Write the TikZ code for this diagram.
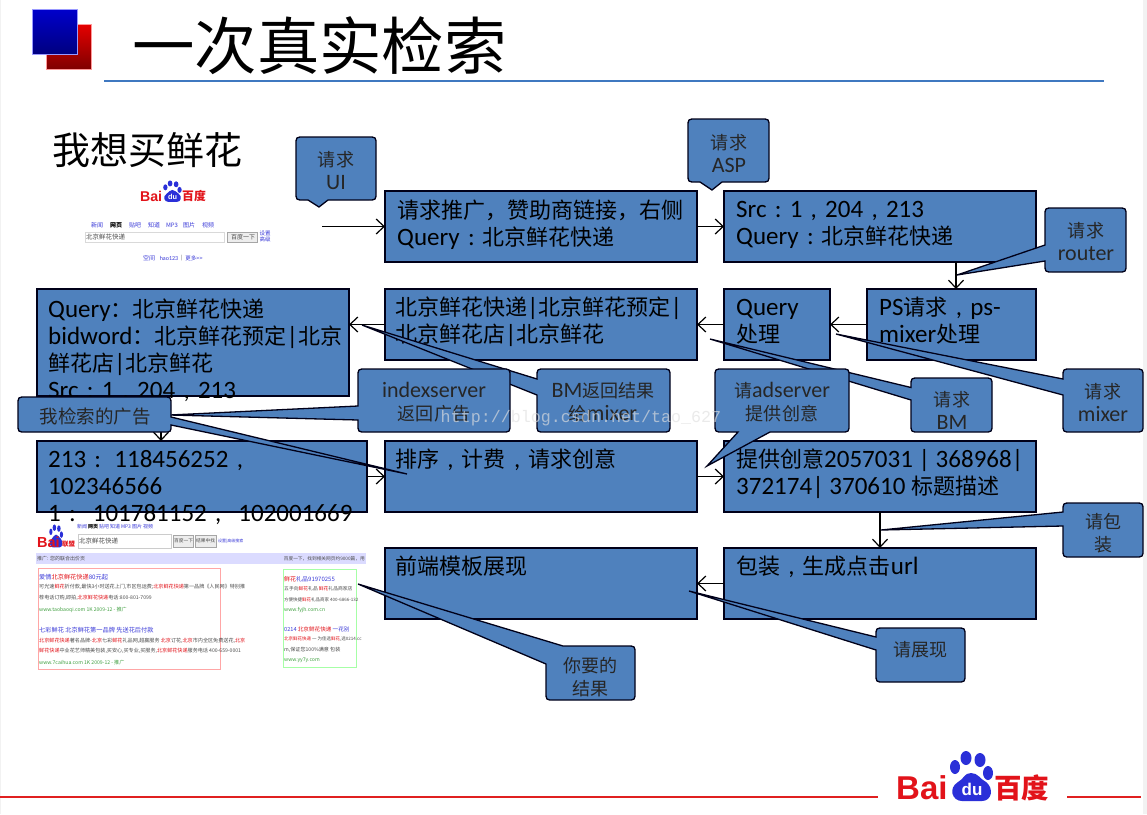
\documentclass[tikz,border=0pt]{standalone}
\usepackage{fontspec}
\usetikzlibrary{arrows.meta,calc}
\setmainfont{Carlito}
\newfontfamily\cjk{Noto Sans CJK SC}
\newfontfamily\cjks[Scale=0.88]{Noto Sans CJK SC}
\newfontfamily\logofont{Liberation Sans}
\newfontfamily\wmfont{Liberation Mono}
\newcommand{\Z}[1]{{\cjks #1}}
\newcommand{\Y}[1]{{\cjks\fontsize{20.5}{23}\selectfont #1}}
\newcommand{\kk}[1]{\hspace{.33em}#1\hspace{.33em}}
\definecolor{boxblue}{HTML}{4F81BD}
\definecolor{rulecol}{HTML}{3F78C0}
\definecolor{footred}{HTML}{E02020}
\definecolor{logored}{HTML}{E2131A}
\definecolor{logoblue}{HTML}{2A2FD8}
\definecolor{linkblue}{HTML}{3A3AD8}
\definecolor{adgreen}{HTML}{3F9F3F}
\tikzset{
  bx/.style={draw=black!90!blue,line width=1.3pt,fill=boxblue,inner sep=0pt,outer sep=0pt},
  bt/.style={anchor=north west,inner sep=0pt,align=left,font=\fontsize{25}{27}\selectfont},
  conn/.style={line width=1.2pt,-{Straight Barb[length=8pt,width=15pt,line width=1.2pt]}},
  cshape/.style={draw=black!90!blue,line width=1.3pt,fill=boxblue},
  ct/.style={inner sep=0pt,align=center,text=black!85,font=\fontsize{22}{23}\selectfont},
  mini/.style={inner sep=0pt,anchor=west,font=\cjk\fontsize{5.1}{6}\selectfont,text=black!70},
  minil/.style={mini,text=linkblue,font=\cjk\fontsize{6.2}{6}\selectfont},
  minig/.style={mini,text=adgreen},
  navl/.style={inner sep=0pt,text=linkblue,font=\cjk\fontsize{6}{6}\selectfont},
  navb/.style={inner sep=0pt,text=black,font=\cjk\bfseries\fontsize{6}{6}\selectfont}
}
\newcommand{\calloutL}[8]{\draw[cshape] (#1,#5) -- (#7,#8) -- (#1,#6) -- (#1,#4-8) .. controls (#1,#4) .. (#1+8,#4)
  -- (#3-8,#4) .. controls (#3,#4) .. (#3,#4-8) -- (#3,#2+8) .. controls (#3,#2) .. (#3-8,#2)
  -- (#1+8,#2) .. controls (#1,#2) .. (#1,#2+8) -- cycle;}
\newcommand{\calloutB}[8]{\draw[cshape] (#5,#4) -- (#7,#8) -- (#6,#4) -- (#3-8,#4) .. controls (#3,#4) .. (#3,#4-8)
  -- (#3,#2+8) .. controls (#3,#2) .. (#3-8,#2) -- (#1+8,#2) .. controls (#1,#2) .. (#1,#2+8)
  -- (#1,#4-8) .. controls (#1,#4) .. (#1+8,#4) -- cycle;}
\newcommand{\pawshape}{%
    \fill[logoblue] (70,8) ellipse (5.5 and 7) (84,10) ellipse (5.5 and 7)
       (59,17) ellipse (5 and 7) (92,23) ellipse (5 and 7);
    \fill[logoblue] (75,23) .. controls (68,23) and (68,29) .. (62,32)
       .. controls (52,38) and (56,51) .. (66,51) -- (86,51)
       .. controls (96,51) and (98,38) .. (90,32)
       .. controls (84,29) and (82,23) .. (75,23) -- cycle;
}
\newcommand{\bailogo}[3]{%
  \begin{scope}[shift={(#1,#2)},scale=#3,transform shape]
    \node[inner sep=0pt,anchor=base west,text=logored,font=\logofont\bfseries\fontsize{33}{33}\selectfont] at (0,49) {Bai};
    \pawshape
    \node[inner sep=0pt,text=white,font=\logofont\bfseries\fontsize{17}{17}\selectfont] at (76,39) {du};
    \node[inner sep=0pt,anchor=base west,text=logored,font=\cjk\bfseries\fontsize{27.5}{28}\selectfont] at (98,48) {百度};
  \end{scope}}
\newcommand{\R}[1]{\textcolor{logored}{#1}}
\begin{document}
\begin{tikzpicture}[x=1pt,y=-1pt]
\useasboundingbox (0,0) rectangle (1147,814);
\fill[white] (0,0) rectangle (1147,814);
\fill[black!5] (1143,0) rectangle (1147,814);
\fill[black!5] (0,0) rectangle (1,814);
% header
\shade[top color=red!90!black,bottom color=red!50!black,draw=red!40!white,line width=.6pt] (46,24) rectangle (91,69);
\shade[top color=blue!80!black,bottom color=blue!50!black,draw=blue!40!white,line width=.6pt] (32,9) rectangle (77,54);
\node[anchor=west,inner sep=0pt,font=\cjk\fontsize{62.4}{62}\selectfont] (title) at (132,46) {一次真实检索};
\path[fill=rulecol,draw=none] (104,80) rectangle (1104,82);
\node[anchor=west,inner sep=0pt,font=\cjk\fontsize{38}{38}\selectfont] (want) at (52,150) {我想买鲜花};
% search page
\bailogo{140}{180}{.43}
\foreach \t/\x in {新闻/97,贴吧/135,知道/154,图片/189,视频/208}{\node[navl] at (\x,225.5) {\t};}
\node[navb] at (116,225.5) {网页};
\node[navl] at (172,225.5) {MP3};
\draw[black!15,fill=white,line width=.7pt] (85,232) rectangle (224,242);
\node[mini,font=\cjk\fontsize{6.5}{6}\selectfont] at (86,237) {北京鲜花快递};
\draw[black!35,fill=black!7,line width=.7pt] (227,232) rectangle (257,242);
\node[mini,font=\cjk\fontsize{6}{6}\selectfont] at (231,237) {百度一下};
\node[navl,align=center,font=\cjk\fontsize{5.5}{6}\selectfont] at (265,236.5) {设置\\高级};
\node[navl] at (149,258.5) {空间};
\node[navl,font=\fontsize{6}{6}\selectfont] at (169,258.5) {hao123};
\node[mini] at (181,258.5) {|};
\node[navl,font=\cjk\fontsize{5.5}{6}\selectfont] at (194,258.5) {更多>>};
% result page
\begin{scope}[shift={(32,524)},xscale=.32,yscale=.46]\pawshape\end{scope}
\node[inner sep=0pt,anchor=base west,text=logored,font=\logofont\bfseries\fontsize{14.5}{15}\selectfont] at (37,547) {Bai};
\node[inner sep=0pt,anchor=base west,text=logored,font=\cjk\bfseries\fontsize{6.5}{7}\selectfont] at (62,546) {联盟};
\foreach \t/\x in {新闻/82,贴吧/104,知道/115,图片/137,视频/148}{\node[navl,font=\cjk\fontsize{5}{6}\selectfont] at (\x,527) {\t};}
\node[navb,font=\cjk\bfseries\fontsize{5}{6}\selectfont] at (93,527) {网页};
\node[navl,font=\cjk\fontsize{5}{6}\selectfont] at (126,527) {MP3};
\draw[black!20,fill=white,line width=.8pt] (78,534) rectangle (171,548);
\node[mini,font=\cjk\fontsize{6.5}{6}\selectfont] at (79,541) {北京鲜花快递};
\draw[black!35,fill=black!7,line width=.7pt] (173,535) rectangle (193,547);
\node[mini,font=\cjk\fontsize{4.7}{6}\selectfont] at (174,541) {百度一下};
\draw[black!35,fill=black!7,line width=.7pt] (195,535) rectangle (216,547);
\node[mini,font=\cjk\fontsize{4.7}{6}\selectfont] at (196,541) {结果中找};
\node[mini,text=linkblue,font=\cjk\fontsize{4}{6}\selectfont] at (218,541.5) {设置|高级搜索};
\fill[blue!14] (36,553) rectangle (366,564);
\node[mini,font=\cjk\fontsize{5}{6}\selectfont] at (37,558.5) {推广: 您的联合出价页};
\node[mini,anchor=east,font=\cjk\fontsize{4.7}{6}\selectfont] at (365,558.5) {百度一下，找到相关网页约9000篇，用};
\draw[red!35,line width=1pt] (38,568) rectangle (220,669);
\draw[green!35,line width=1pt] (283,569) rectangle (356,667);
\node[minil] at (39,577) {爱情\R{北京鲜花快递}80元起};
\node[mini] at (39,587) {可光速\R{鲜花}折付款,最快3小时送花上门,市区包运费;\R{北京鲜花快递}第一品牌《人民网》特别推};
\node[mini] at (39,598) {荐电话订购,即拍,\R{北京鲜花快递}电话:800-801-7099};
\node[minig] at (39,610) {www.taobaoqi.com 1K 2009-12 - 推广};
\node[minil] at (39,630) {七彩鲜花 北京鲜花第一品牌 先送花后付款};
\node[mini] at (39,641) {\R{北京鲜花快递}著名品牌-\R{北京}七彩\R{鲜花}礼品网,超赢服务 \R{北京}订花,\R{北京}市内全区免费送花,\R{北京}};
\node[mini] at (39,651) {\R{鲜花快递}中业花艺师精美包装,买安心,买专业,买服务,\R{北京鲜花快递}服务电话 400-659-0001};
\node[minig] at (39,663) {www.7caihua.com 1K 2009-12 - 推广};
\node[minil,font=\cjk\fontsize{6}{6}\selectfont] at (284,579) {\R{鲜花}礼品91970255};
\node[mini,font=\cjk\fontsize{4.8}{6}\selectfont] at (284,589) {五手向\R{鲜花}礼品 \R{鲜花}礼品商家店};
\node[mini,font=\cjk\fontsize{4.5}{6}\selectfont] at (284,600) {方便快捷\R{鲜花}礼品商家 400-6866-132};
\node[minig] at (284,610) {www.fyjh.com.cn};
\node[minil,font=\cjk\fontsize{5.6}{6}\selectfont] at (284,629) {0214 \R{北京鲜花快递} 一花别};
\node[mini,font=\cjk\fontsize{4.5}{6}\selectfont] at (284,639) {\R{北京鲜花快递} 一 为佳选\R{鲜花},选0214.cc};
\node[mini] at (284,650) {m,保证您100\%满意 包装};
\node[minig] at (284,660) {www.yy7y.com};
% footer
\path[fill=footred,draw=none] (0,796) rectangle (878,798);
\path[fill=footred,draw=none] (1067,796) rectangle (1141,798);
\bailogo{896}{750}{1}
% boxes
\node[bx,minimum width=312pt,minimum height=71pt] (b1) at (541,226.5) {};
\node[bx,minimum width=312pt,minimum height=71pt] (b2) at (880,226.5) {};
\node[bx,minimum width=169pt,minimum height=71pt] (b3) at (951.5,324.5) {};
\node[bx,minimum width=106pt,minimum height=71pt] (b4) at (777,324.5) {};
\node[bx,minimum width=312pt,minimum height=71pt] (b5) at (541,324.5) {};
\node[bx,minimum width=312pt,minimum height=107pt] (b6) at (193,342.5) {};
\node[bx,minimum width=330pt,minimum height=71pt] (b7) at (202,476.5) {};
\node[bx,minimum width=312pt,minimum height=71pt] (b8) at (541,476.5) {};
\node[bx,minimum width=312pt,minimum height=71pt] (b9) at (880,476.5) {};
\node[bx,minimum width=312pt,minimum height=71pt] (b10) at (880,583.5) {};
\node[bx,minimum width=312pt,minimum height=71pt] (b11) at (541,583.5) {};
% box text
\node[bt] (t1) at (397,199) {\strut\Z{请求推广，赞助商链接，右侧}\\Query\kk{:}\Z{北京鲜花快递}};
\node[bt] (t2) at (736,198) {\strut Src\kk{:}1\kk{,}204\kk{,}213\\Query\kk{:}\Z{北京鲜花快递}};
\node[bt] (t3) at (879,296) {\strut PS\Z{请求}\kk{,}ps-\\mixer\Z{处理}};
\node[bt] (t4) at (736,296) {\strut Query\\\Z{处理}};
\node[bt] (t5) at (395,296) {\strut\Z{北京鲜花快递}|\Z{北京鲜花预定}|\\\Z{北京鲜花店}|\Z{北京鲜花}};
\node[bt] (t6) at (48,298) {\strut Query\Z{：北京鲜花快递}\\bidword\Z{：北京鲜花预定}|\Z{北京}\\\Z{鲜花店}|\Z{北京鲜花}\\Src\kk{:}1\kk{,}204\kk{,}213};
\node[bt] (t7) at (48,448) {\strut 213\kk{:}\hspace{.2em}118456252\kk{,}\\102346566\\1\kk{:}\hspace{.35em}101781152\kk{,}\hspace{.35em}102001669};
\node[bt] (t8) at (395,448) {\strut\Z{排序}\kk{,}\Z{计费}\kk{,}\Z{请求创意}};
\node[bt] (t9) at (736,448) {\strut\Z{提供创意}2057031 | 368968|\\372174| 370610 \Z{标题描述}};
\node[bt] (t10) at (736,555) {\strut\Z{包装}\kk{,}\Z{生成点击}url};
\node[bt] (t11) at (395,555) {\strut\Z{前端模板展现}};
% connectors
\coordinate (start) at (322,226.5);
\coordinate (k23) at (956,275);
\coordinate (k67) at (161,420);
\draw[conn] (start) -- (b1.west);
\draw[conn] (b1.east) -- (b2.west);
\draw[conn] (k23 |- b2.south) -- (k23 |- b3.north);
\draw[conn] (b3.west) -- (b4.east);
\draw[conn] (b4.west) -- (b5.east);
\draw[conn] (b5.west) -- (b5.west -| b6.east);
\draw[conn] (k67 |- b6.south) -- (k67 |- b7.north);
\draw[conn] (b7.east) -- (b8.west);
\draw[conn] (b8.east) -- (b9.west);
\draw[conn] (b9.south) -- (b10.north);
\draw[conn] (b10.west) -- (b11.east);
% callouts
\calloutB{296}{137}{376}{200}{308}{328}{319}{207}
\node[ct] (cUI) at (336,170) {\Y{请求}\\UI};
\calloutB{688}{119}{769}{182}{700}{722}{712}{190}
\node[ct] (cASP) at (729,153) {\Y{请求}\\ASP};
\calloutL{1045}{208}{1126}{272}{245}{261}{957}{275}
\node[ct] (cRouter) at (1086,241) {\Y{请求}\\router};
\calloutL{1063}{369}{1143}{432}{379}{395}{836}{334}
\node[ct] (cMixer) at (1103,402) {\Y{请求}\\mixer};
\calloutL{911}{378}{992}{432}{387.5}{400}{710}{339}
\node[ct] (cBM) at (952,410) {\Y{请求}\\BM};
\calloutL{537}{369}{670}{432}{379}{395}{362}{325}
\node[ct] (cRes) at (603,402) {BM\Y{返回结果}\\\Y{给}mixer};
\calloutL{358}{369}{510}{432}{406}{420}{170}{415}
\node[ct] (cIdx) at (434,402) {indexserver\\\Y{返回广告}};
\draw[cshape] (171,417) -- (407,474) -- (171,425) .. controls (171,432) .. (164,432) -- (26,432) .. controls (18,432) .. (18,424)
  -- (18,405) .. controls (18,397) .. (26,397) -- (163,397) .. controls (171,397) .. (171,405) -- cycle;
\node[ct,font=\cjk\fontsize{18.5}{23}\selectfont] (cMine) at (95,416) {我检索的广告};
\calloutB{715}{369}{849}{432}{738}{770}{707}{466}
\node[ct] (cAd) at (782,402) {\Y{请}adserver\\\Y{提供创意}};
\calloutL{1063}{503}{1143}{557}{512}{526}{881}{530}
\node[ct,font=\cjk\fontsize{18}{23}\selectfont] (cPack) at (1103,533) {请包\\装};
\calloutL{876}{628}{965}{682}{637}{650}{689}{591}
\node[ct,font=\cjk\fontsize{18}{23}\selectfont] (cShow) at (920,650) {请展现};
\draw[cshape] (563,646) -- (358,584) -- (546,664) -- (546,692) .. controls (546,700) .. (554,700) -- (627,700) .. controls (635,700) .. (635,692)
  -- (635,654) .. controls (635,646) .. (627,646) -- cycle;
\node[ct,font=\cjk\fontsize{18}{23}\selectfont] (cYou) at (590,677) {你要的\\结果};
% watermark
\node[inner sep=0pt,text=black!12,opacity=.65,font=\wmfont\fontsize{16.7}{17}\selectfont] (wm) at (581,418) {http://blog.csdn.net/tao\_627};
\end{tikzpicture}
\end{document}
